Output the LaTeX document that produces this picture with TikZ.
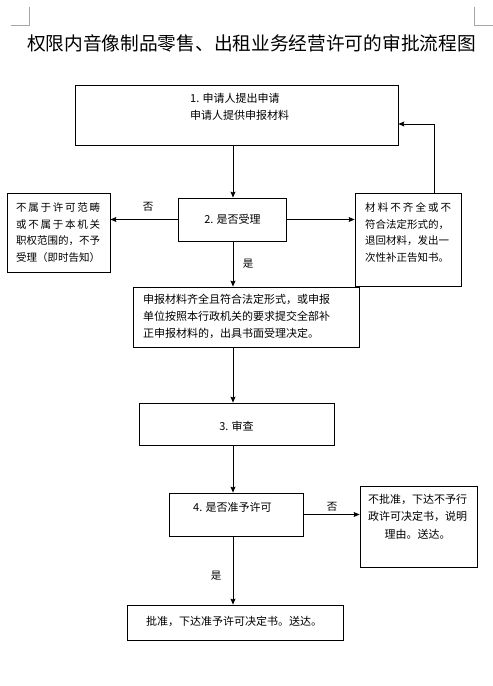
\documentclass[tikz,border=0pt]{standalone}
\usepackage{fontspec}
\setmainfont{Noto Sans CJK SC}
\usetikzlibrary{arrows.meta}
\newcommand{\jl}[2]{\makebox[#1][s]{#2}}
\tikzset{
  box/.style={draw, line width=0.8pt, rectangle, inner sep=0pt},
  txt/.style={inner sep=0pt, align=left, font=\fontsize{10.5}{16.7}\selectfont},
  txtb/.style={inner sep=0pt, align=left, font=\fontsize{11}{17}\selectfont},
  lbl/.style={inner sep=0pt, font=\fontsize{10.5}{12}\selectfont},
  arr/.style={line width=0.8pt, -{Stealth[length=6pt,width=5pt,inset=1pt]}},
  corner/.style={draw=gray!70, line width=0.7pt}
}
\begin{document}
\begin{tikzpicture}[x=1pt,y=-1pt]
\useasboundingbox (0,0) rectangle (493,686);
% corner marks
\draw[corner] (11,25) -- (29,25) -- (29,7);
\draw[corner] (474,7) -- (474,25) -- (493,25);
% title
\node[inner sep=0pt, font=\fontsize{18.7}{22}\selectfont] (title) at (251.5,43) {权限内音像制品零售、出租业务经营许可的审批流程图};
% boxes
\node[box, minimum width=323pt, minimum height=60pt] (b1) at (236.5,115) {};
\node[txtb, anchor=west] (t1) at (190,106.5) {1. 申请人提出申请\\申请人提供申报材料};
\node[box, minimum width=108pt, minimum height=43pt] (b2) at (232,219.5) {};
\node[txtb] (t2) at (232.5,219.5) {2. 是否受理};
\node[box, minimum width=103pt, minimum height=79pt] (L) at (58.5,232.5) {};
\node[txt, anchor=west] (tL) at (16,232.5) {\jl{84pt}{不\hfil 属\hfil 于\hfil 许\hfil 可\hfil 范\hfil 畴}\\\jl{84pt}{或\hfil 不\hfil 属\hfil 于\hfil 本\hfil 机\hfil 关}\\职权范围的，不予\\受理（即时告知）};
\node[box, minimum width=106pt, minimum height=93pt] (R) at (408,239.5) {};
\node[txt, anchor=west] (tR) at (365,232.5) {\jl{86pt}{材\hfil 料\hfil 不\hfil 齐\hfil 全\hfil 或\hfil 不}\\符合法定形式的，\\退回材料，发出一\\次性补正告知书。};
\node[box, minimum width=226pt, minimum height=60pt] (b3) at (246,317) {};
\node[txtb, anchor=west] (t3) at (143,316.5) {申报材料齐全且符合法定形式，或申报\\单位按照本行政机关的要求提交全部补\\正申报材料的，出具书面受理决定。};
\node[box, minimum width=195pt, minimum height=42pt] (b4) at (236.5,424) {};
\node[txtb] (t4) at (236.5,426) {3. 审查};
\node[box, minimum width=134pt, minimum height=43pt] (b5) at (236,514.5) {};
\node[txtb, anchor=west] (t5) at (193,507) {4. 是否准予许可};
\node[box, minimum width=117pt, minimum height=81pt] (R2) at (418.5,526.5) {};
\node[txtb, align=center, font=\fontsize{11}{17.5}\selectfont] (tR2) at (417.5,516.5) {不批准，下达不予行\\政许可决定书，说明\\理由。送达。};
\node[box, minimum width=216pt, minimum height=35pt] (b6) at (235,622.5) {};
\node[txtb, anchor=west] (t6) at (146,621.5) {批准，下达准予许可决定书。送达。};
% labels
\node[lbl] (n1) at (148,207) {否};
\node[lbl] (y1) at (248,264) {是};
\node[lbl] (n2) at (332,507) {否};
\node[lbl] (y2) at (216,576) {是};
% connectors
\coordinate (ax) at (233,0);
\coordinate (fb) at (434,124);
\draw[arr] (ax |- b1.south) -- (ax |- b2.north);
\draw[arr] (b2.west) -- (b2.west -| L.east);
\draw[arr] (b2.east) -- (b2.east -| R.west);
\draw[arr] (fb |- R.north) -- (fb) -- (fb -| b1.east);
\draw[arr] (ax |- b2.south) -- (ax |- b3.north);
\draw[arr] (ax |- b3.south) -- (ax |- b4.north);
\draw[arr] (ax |- b4.south) -- (ax |- b5.north);
\draw[arr] (b5.east) -- (b5.east -| R2.west);
\draw[arr] (ax |- b5.south) -- (ax |- b6.north);
\end{tikzpicture}
\end{document}
